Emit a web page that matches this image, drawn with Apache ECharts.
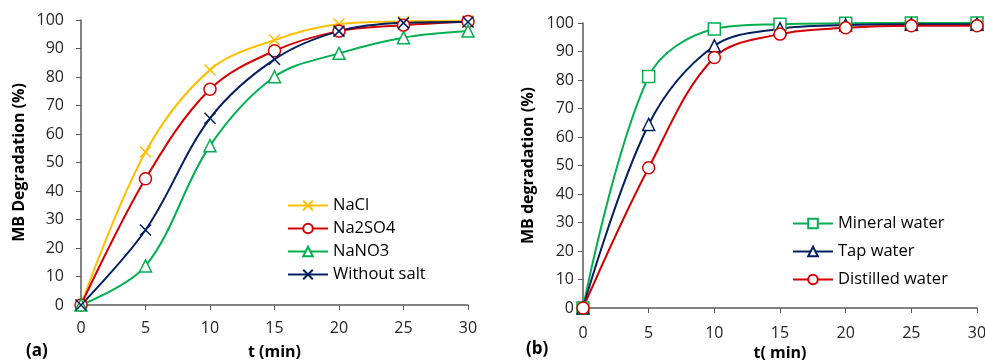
<!DOCTYPE html>
<html>
<head>
<meta charset="utf-8">
<script src="https://cdn.jsdelivr.net/npm/echarts@6/dist/echarts.min.js"></script>
<style>
  html, body { margin: 0; padding: 0; background: #fff; }
  #chart { width: 985px; height: 360px; }
</style>
</head>
<body>
<div id="chart"></div>
<script>
// Sampling times (min), shared by both panels
const times = [0, 5, 10, 15, 20, 25, 30];

// Panel (a): effect of added salts
const saltNames = ['NaCl', 'Na2SO4', 'NaNO3', 'Without salt'];
const naCl      = [0, 53.7, 82.5, 93.0, 98.6, 99.5, 99.7];
const na2so4    = [0, 44.3, 75.7, 89.2, 96.1, 98.2, 99.5];
const nano3     = [0, 13.7, 55.9, 80.1, 88.3, 93.8, 96.1];
const noSalt    = [0, 26.3, 65.5, 86.2, 96.1, 99.0, 99.3];

// Panel (b): effect of water matrix
const waterNames = ['Mineral water', 'Tap water', 'Distilled water'];
const mineral   = [0, 81.2, 97.9, 99.6, 99.9, 100, 100];
const tap       = [0, 64.4, 92.0, 98.0, 99.3, 99.6, 99.6];
const distilled = [0, 49.2, 87.9, 96.1, 98.3, 99.0, 99.0];

const FONT = 'Open Sans';
const CROSS = 'path://M0,0L10,10M10,0L0,10';

function pairs(ys) { return times.map((t, i) => [t, ys[i]]); }

function mk(name, ys, color, symbol, idx) {
  const isCross = symbol === CROSS;
  return {
    name, type: 'line', xAxisIndex: idx, yAxisIndex: idx,
    data: pairs(ys), smooth: 0.35,
    symbol, symbolSize: isCross ? 11 : 12,
    lineStyle: { color, width: 2 },
    itemStyle: { color: '#fff', borderColor: color, borderWidth: 1.5 },
    emphasis: { disabled: true }, z: 3
  };
}

function xAxis(idx, name, margin, gap) {
  return {
    type: 'value', gridIndex: idx, min: 0, max: 30, interval: 5,
    name, nameLocation: 'middle', nameGap: gap,
    nameTextStyle: { fontFamily: FONT, fontSize: 16, fontWeight: 'bold', color: '#000' },
    axisLine: { show: true, lineStyle: { color: '#595959', width: 1.5 } },
    axisTick: { show: true, length: 5, lineStyle: { color: '#595959' } },
    axisLabel: { fontFamily: FONT, fontSize: 16, color: '#262626', margin },
    splitLine: { show: false }
  };
}

function yAxis(idx, name, margin, gap) {
  return {
    type: 'value', gridIndex: idx, min: 0, max: 100, interval: 10,
    name, nameLocation: 'middle', nameGap: gap, nameRotate: 90,
    nameTextStyle: { fontFamily: FONT, fontSize: 16, fontWeight: 'bold', color: '#000' },
    axisLine: { show: true, lineStyle: { color: '#595959', width: 1.5 } },
    axisTick: { show: true, length: 5, lineStyle: { color: '#595959' } },
    axisLabel: { fontFamily: FONT, fontSize: 16, color: '#262626', margin },
    splitLine: { show: false }
  };
}

const legendBase = {
  orient: 'vertical', itemWidth: 40, itemHeight: 12,
  textStyle: { fontFamily: FONT, fontSize: 16.5, color: '#000' }
};

const chart = echarts.init(document.getElementById('chart'), null, { renderer: 'canvas' });
chart.setOption({
  animation: false,
  backgroundColor: '#fff',
  grid: [
    { left: 81, right: 517, top: 20, bottom: 55, outerBoundsMode: 'none', containLabel: false },
    { left: 583, right: 8, top: 23, bottom: 52, outerBoundsMode: 'none', containLabel: false }
  ],
  xAxis: [xAxis(0, 't (min)', 15, 39), xAxis(1, 't( min)', 17, 29)],
  yAxis: [yAxis(0, 'MB Degradation (%)', 17, 54), yAxis(1, 'MB degradation (%)', 9, 47)],
  legend: [
    Object.assign({}, legendBase, { left: 282, top: 192, itemGap: 6, data: saltNames }),
    Object.assign({}, legendBase, { left: 787, top: 210, itemGap: 11, data: waterNames })
  ],
  series: [
    mk('NaCl', naCl, '#FFC000', CROSS, 0),
    mk('Na2SO4', na2so4, '#D40000', 'circle', 0),
    mk('NaNO3', nano3, '#00B050', 'triangle', 0),
    mk('Without salt', noSalt, '#002060', CROSS, 0),
    mk('Mineral water', mineral, '#00B050', 'rect', 1),
    mk('Tap water', tap, '#002060', 'triangle', 1),
    mk('Distilled water', distilled, '#D40000', 'circle', 1)
  ],
  graphic: [
    { type: 'text', left: 26, top: 343, style: { text: '(a)', fontFamily: FONT, fontSize: 17, fontWeight: 'bold', fill: '#000' } },
    { type: 'text', left: 526, top: 341, style: { text: '(b)', fontFamily: FONT, fontSize: 17, fontWeight: 'bold', fill: '#000' } }
  ]
});
</script>
</body>
</html>
